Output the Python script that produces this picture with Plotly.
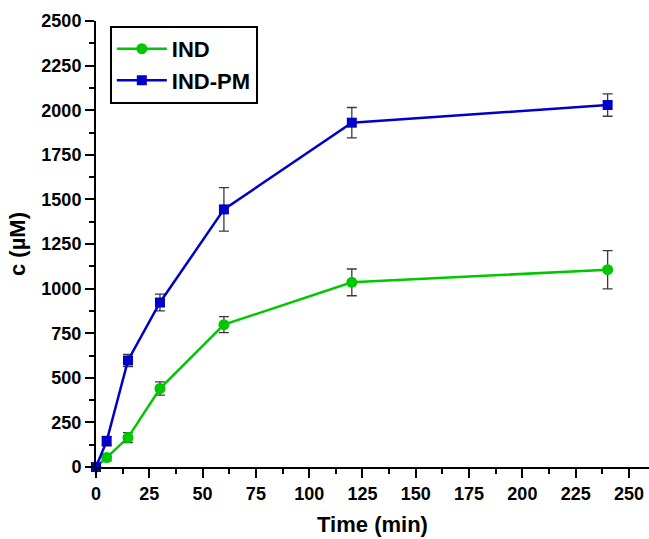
import plotly.graph_objects as go

time = [0, 5, 15, 30, 60, 120, 240]
ind = [0, 53, 165, 440, 798, 1035, 1106]
ind_err = [0, 19, 28, 37, 45, 75, 107]
indpm = [0, 145, 597, 922, 1444, 1930, 2029]
indpm_err = [0, 26, 34, 47, 122, 85, 63]

green = '#00C800'
blue = '#0000C8'
errc = '#3a3a3a'
FONT = 'Arial, Liberation Sans, sans-serif'

fig = go.Figure()
fig.add_trace(go.Scatter(
    x=time, y=ind, name='IND', mode='lines+markers',
    line=dict(color=green, width=2.5),
    marker=dict(symbol='circle', size=11, color=green),
    error_y=dict(type='data', array=ind_err, color=errc, thickness=1.3, width=5),
    cliponaxis=False))
fig.add_trace(go.Scatter(
    x=time, y=indpm, name='IND-PM', mode='lines+markers',
    line=dict(color=blue, width=2.5),
    marker=dict(symbol='square', size=10, color=blue),
    error_y=dict(type='data', array=indpm_err, color=errc, thickness=1.3, width=5),
    cliponaxis=False))

axis_common = dict(
    showline=True, linecolor='black', linewidth=2, mirror=False,
    ticks='outside', ticklen=9, tickwidth=2, tickcolor='black',
    showgrid=False, zeroline=False,
    tickfont=dict(family=FONT, size=18, color='black', weight='bold'),
)

fig.update_layout(
    width=649, height=539,
    margin=dict(l=96, r=0, t=21, b=72),
    paper_bgcolor='white', plot_bgcolor='white',
    showlegend=True,
    legend=dict(x=0.025, y=0.989, xanchor='left', yanchor='top',
                bordercolor='black', borderwidth=2, bgcolor='white',
                font=dict(family=FONT, size=22, color='black', weight='bold'),
                tracegroupgap=0, itemwidth=50),
    xaxis=dict(range=[0, 259.4], tickvals=[0, 25, 50, 75, 100, 125, 150, 175, 200, 225, 250],
               minor=dict(ticks='outside', ticklen=5, tickwidth=2, tickcolor='black', dtick=12.5, tick0=0),
               title=dict(text='Time (min)', font=dict(family=FONT, size=22, color='black', weight='bold'), standoff=14),
               **axis_common),
    yaxis=dict(range=[0, 2500], tickvals=[0, 250, 500, 750, 1000, 1250, 1500, 1750, 2000, 2250, 2500],
               minor=dict(ticks='outside', ticklen=5, tickwidth=2, tickcolor='black', dtick=125, tick0=0),
               title=dict(text='c (µM)', font=dict(family=FONT, size=22, color='black', weight='bold'), standoff=10),
               **axis_common),
)

fig.write_html('out.html')
